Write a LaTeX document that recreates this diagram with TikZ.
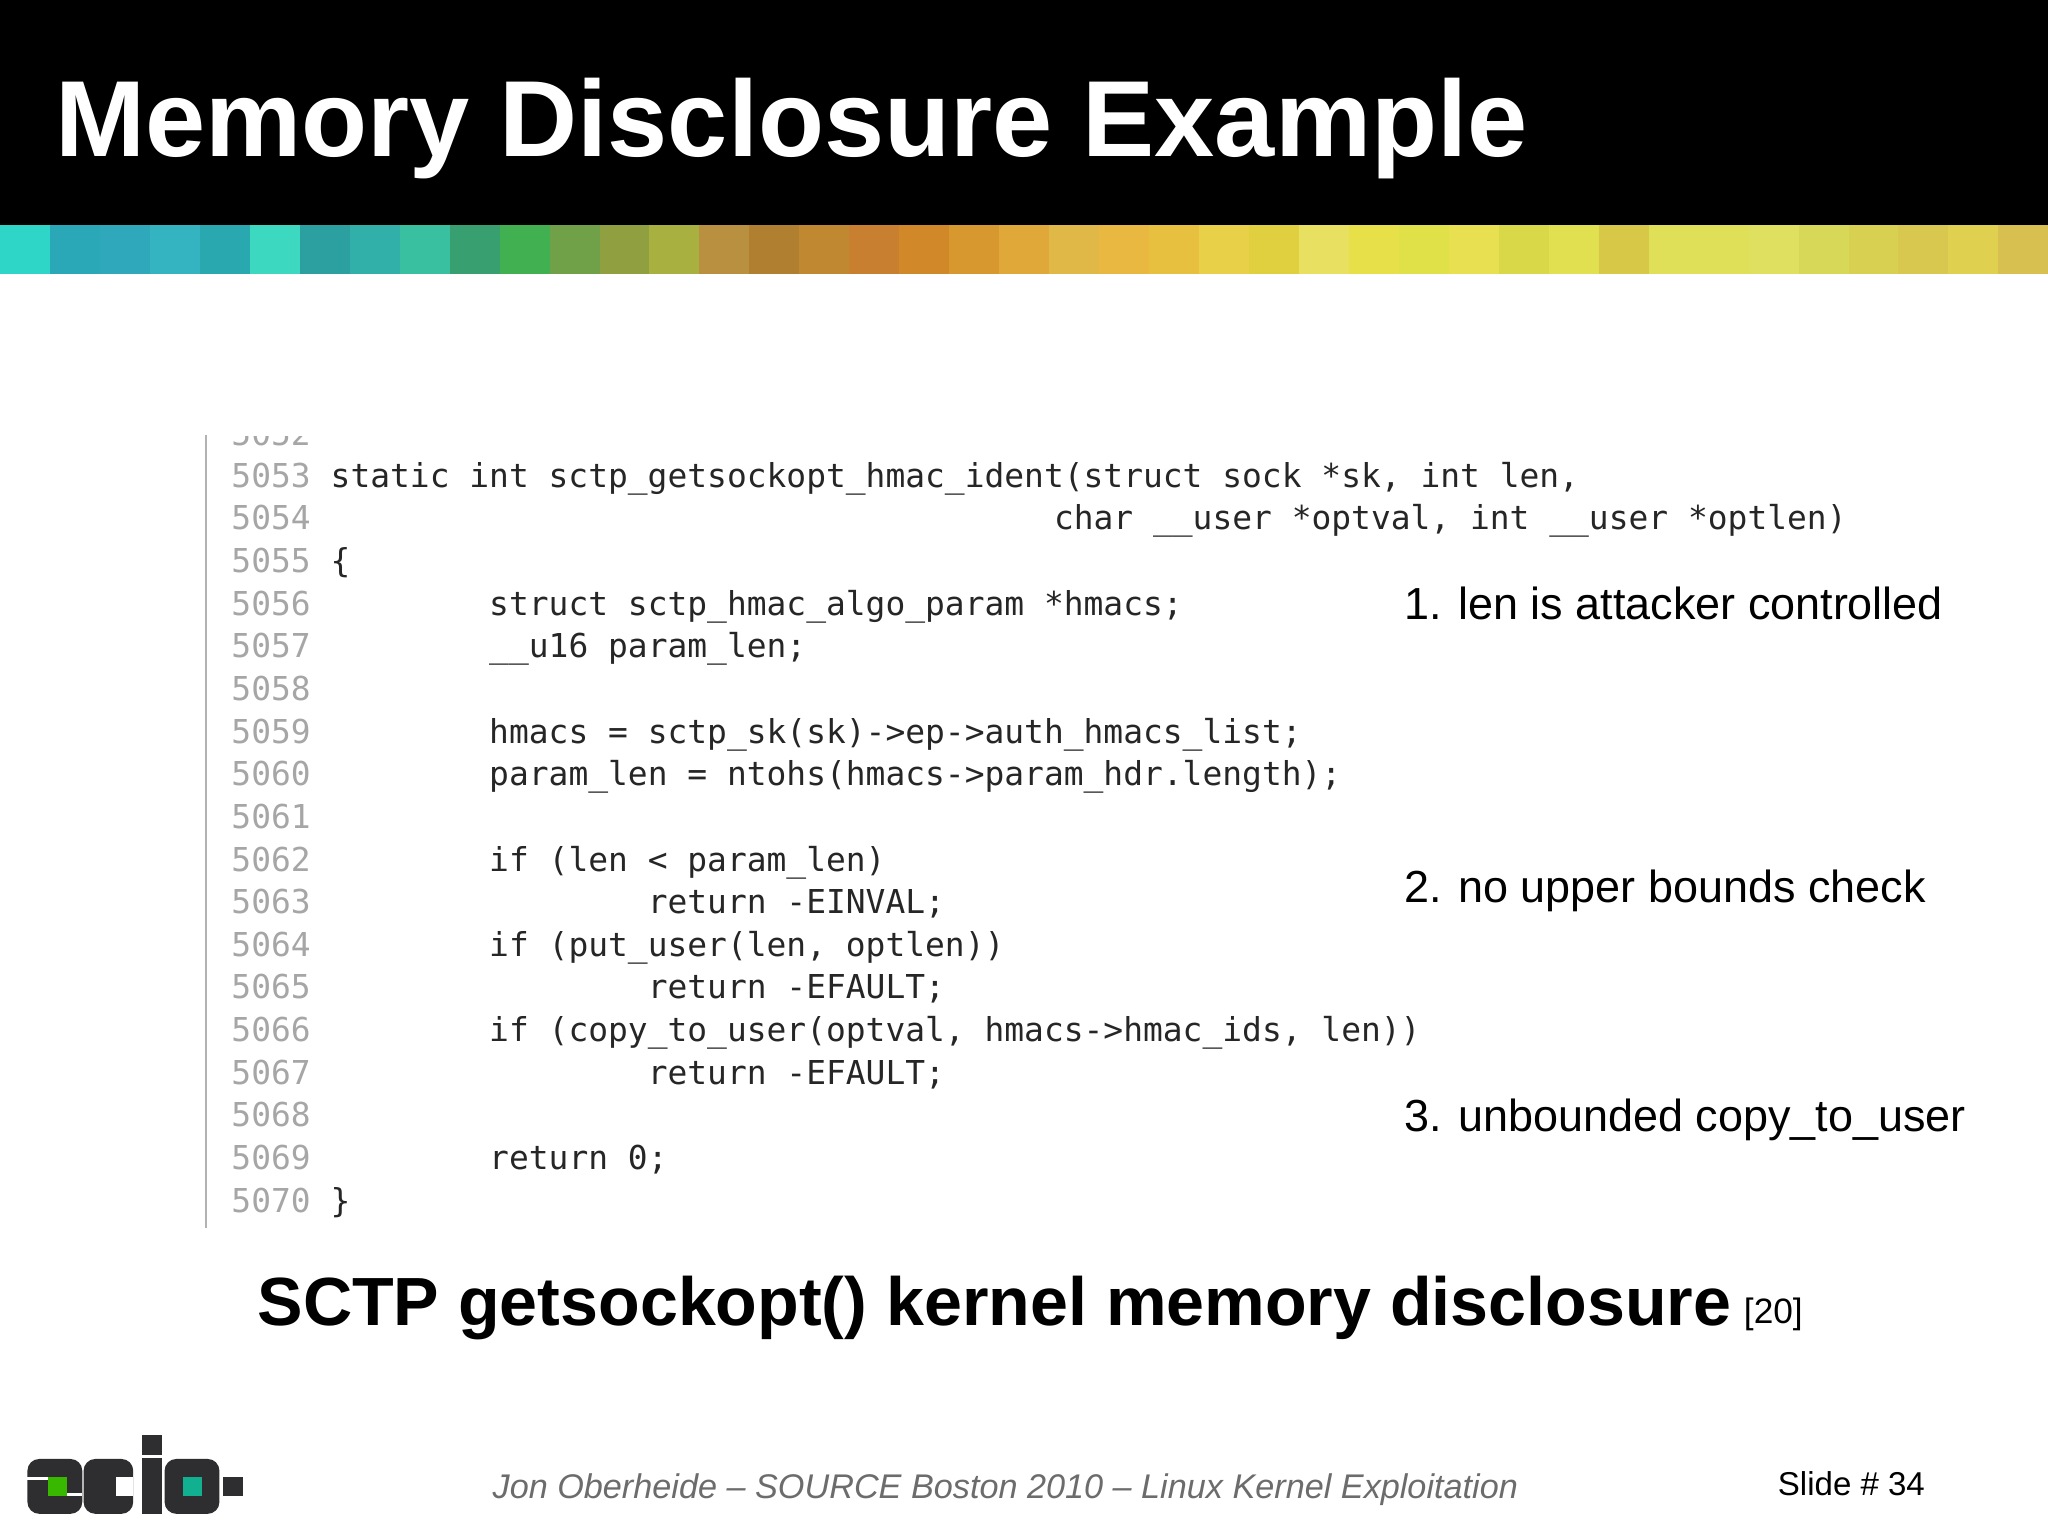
\documentclass[tikz,border=0pt]{standalone}
\usepackage{fontspec}
\setmainfont{Liberation Sans}
\newfontfamily\codefont{DejaVu Sans Mono}
\begin{document}
\begin{tikzpicture}[x=1pt,y=-1pt]
\useasboundingbox (0,0) rectangle (1568,1176);
\fill[white] (0,0) rectangle (1568,1176);
\fill[black] (0,0) rectangle (1568,172);
\node[anchor=base west,text=white,inner sep=0,font=\bfseries\fontsize{82.8}{83}\selectfont] (title) at (42,120) {Memory Disclosure Example};
\def\cols{2ED6C8,2AA8B8,30A8BC,34B4C0,2AA8B0,3CD8C0,2CA0A0,30B0A8,38C0A0,38A070,40B050,70A048,90A040,A8B040,B89040,B08030,C08830,C88030,D08828,D89830,E0A838,E0B848,E8B840,E8C040,E8D048,E0D040,E8E060,E8E048,E0E048,E8E050,D8D848,E0E050,D8C848,E0E058,E0E058,E0E060,D8D858,D8D050,D8C850,E0D050,D8C050}
\foreach \c [count=\i from 0] in \cols {
  \definecolor{bc}{HTML}{\c}
  \fill[bc] (\i*38.25,172) rectangle (\i*38.25+38.6,210);
}
% code
\tikzset{ln/.style={anchor=base west,inner sep=0,text=gray!70,font=\codefont\fontsize{25.2}{25}\selectfont},
 cd/.style={anchor=base west,inner sep=0,text=black!85,font=\codefont\fontsize{25.2}{25}\selectfont},
 note/.style={anchor=base west,inner sep=0,font=\fontsize{34.4}{34}\selectfont}}
\begin{scope}
\clip (150,334) rectangle (1300,950);
\node[ln] (l52) at (177,341) {5052};
\end{scope}
\draw[gray!60,line width=1.5pt] (158,333) -- (158,940);
\foreach \n/\t [count=\k from 0] in {
5053/{static int sctp\_getsockopt\_hmac\_ident(struct sock *sk, int len,},
5054/{\hspace*{36.5\fontcharwd\font`a}char \_\_user *optval, int \_\_user *optlen)},
5055/{\{},
5056/{\hspace*{8\fontcharwd\font`a}struct sctp\_hmac\_algo\_param *hmacs;},
5057/{\hspace*{8\fontcharwd\font`a}\_\_u16 param\_len;},
5058/{},
5059/{\hspace*{8\fontcharwd\font`a}hmacs = sctp\_sk(sk)->ep->auth\_hmacs\_list;},
5060/{\hspace*{8\fontcharwd\font`a}param\_len = ntohs(hmacs->param\_hdr.length);},
5061/{},
5062/{\hspace*{8\fontcharwd\font`a}if (len < param\_len)},
5063/{\hspace*{16\fontcharwd\font`a}return -EINVAL;},
5064/{\hspace*{8\fontcharwd\font`a}if (put\_user(len, optlen))},
5065/{\hspace*{16\fontcharwd\font`a}return -EFAULT;},
5066/{\hspace*{8\fontcharwd\font`a}if (copy\_to\_user(optval, hmacs->hmac\_ids, len))},
5067/{\hspace*{16\fontcharwd\font`a}return -EFAULT;},
5068/{},
5069/{\hspace*{8\fontcharwd\font`a}return 0;},
5070/{\}}} {
  \node[ln] (n\n) at (177,373+\k*32.65) {\n};
  \node[cd] (c\n) at (253,373+\k*32.65) {\strut\t};
}
\node[note] (a1) at (1075,474) {1. len is attacker controlled};
\node[note] (a2) at (1075,691) {2. no upper bounds check};
\node[note] (a3) at (1075,866) {3. unbounded copy\_to\_user};
\node[anchor=base west,inner sep=0,font=\bfseries\fontsize{52.2}{52}\selectfont] (sub) at (197,1015) {SCTP getsockopt() kernel memory disclosure};
\node[anchor=base west,inner sep=0,font=\fontsize{27}{27}\selectfont] (ref) at (1335,1013) {[20]};
\node[anchor=base west,inner sep=0,text=gray!85!black,font=\itshape\fontsize{26.2}{26}\selectfont] (foot) at (377,1147) {Jon Oberheide -- SOURCE Boston 2010 -- Linux Kernel Exploitation};
\node[anchor=base west,inner sep=0,font=\fontsize{25.3}{25}\selectfont] (slide) at (1361,1145) {Slide \# 34};
% logo
\definecolor{logo}{HTML}{2E2E30}
\fill[logo,rounded corners=9pt] (21,1117) rectangle (63,1159);
\fill[white] (21,1131) rectangle (37,1133);
\fill[white] (50,1143) rectangle (63,1145);
\fill[green!60!black!70!lime] (37,1131) rectangle (51,1145);
\fill[logo,rounded corners=9pt] (64,1117) rectangle (102,1159);
\fill[white] (89,1131) rectangle (102,1145);
\fill[logo] (109,1099) rectangle (124,1159);
\fill[white] (109,1114) rectangle (124,1116);
\fill[logo,rounded corners=9pt] (126,1117) rectangle (168,1159);
\definecolor{teal2}{HTML}{10B090}
\fill[teal2] (140,1131) rectangle (155,1145);
\fill[logo] (171,1131) rectangle (186,1145);
\end{tikzpicture}
\end{document}
